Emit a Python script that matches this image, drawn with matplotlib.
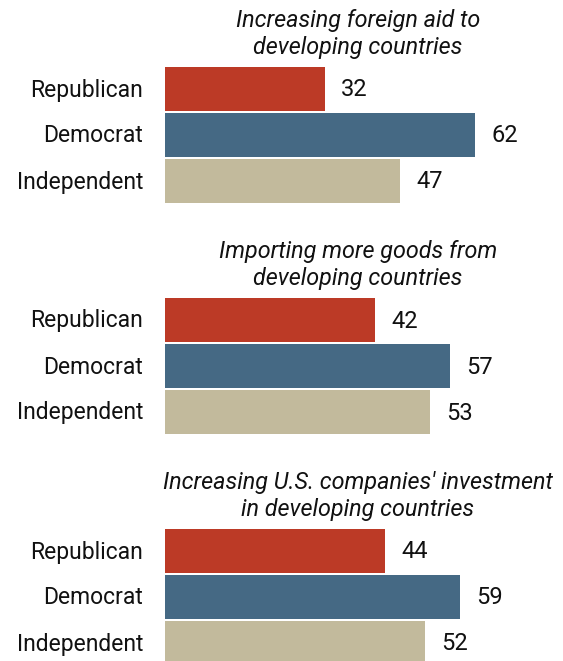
import matplotlib
matplotlib.use("Agg")
import matplotlib.pyplot as plt

titles = [
    "Increasing foreign aid to\ndeveloping countries",
    "Importing more goods from\ndeveloping countries",
    "Increasing U.S. companies' investment\nin developing countries",
]
parties = ["Republican", "Democrat", "Independent"]
values = [
    [32, 62, 47],
    [42, 57, 53],
    [44, 59, 52],
]
colors = ["#BC3A26", "#456984", "#C2BA9C"]

plt.rcParams['font.family'] = ['Roboto', 'DejaVu Sans']

W, H = 563, 661
fig = plt.figure(figsize=(W / 100, H / 100), dpi=100)
ax = fig.add_axes([0, 0, 1, 1])

# layout in pixel units: 5 px per percentage point, zero at x=165
px_per = 5.0
x0 = 165
ax.set_xlim(-x0 / px_per, (W - x0) / px_per)
ax.set_ylim(H, 0)
ax.axis('off')

group_step = 231
first_bar = 89
bar_step = 46

for g, (title, vals) in enumerate(zip(titles, values)):
    base = g * group_step
    ax.text((358 - x0) / px_per, base + 34, title, ha='center', va='center',
            fontsize=16.8, style='italic', color='#111111', linespacing=1.22)
    for i, (party, v) in enumerate(zip(parties, vals)):
        y = base + first_bar + i * bar_step
        ax.barh(y, v, height=44.5, color=colors[i], edgecolor='none')
        ax.text(v + 16 / px_per, y + 1, str(v), ha='left', va='center',
                fontsize=17, color='#111111')
        ax.text((143 - x0) / px_per, y + 1, party, ha='right', va='center',
                fontsize=16.5, color='#111111')

fig.savefig("out.png", dpi=100)
